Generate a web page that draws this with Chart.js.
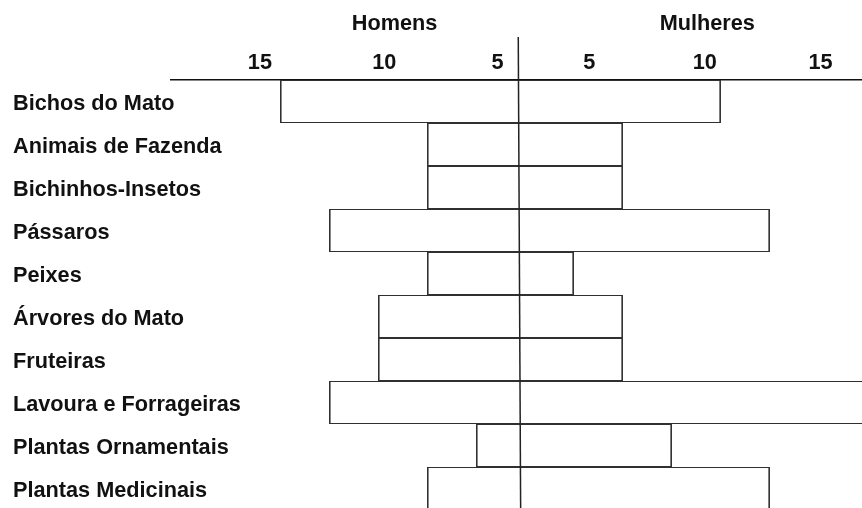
<!DOCTYPE html>
<html><head><meta charset="utf-8">
<script src="https://cdn.jsdelivr.net/npm/chart.js@4/dist/chart.umd.min.js"></script>
<style>html,body{margin:0;padding:0;background:#fff;overflow:hidden;}canvas{display:block;}</style>
</head><body>
<canvas id="c" width="862" height="512"></canvas>
<script>
const categories = ['Bichos do Mato','Animais de Fazenda','Bichinhos-Insetos','Pássaros','Peixes','Árvores do Mato','Fruteiras','Lavoura e Forrageiras','Plantas Ornamentais','Plantas Medicinais'];
const homens   = [5, 2, 2, 4, 2, 3, 3, 4, 1, 2];
const mulheres = [4, 2, 2, 5, 1, 2, 2, 7, 3, 5];
const tickLabels = ['15', '10', '5', '5', '10', '15'];
const tickValues = [-5.41, -2.87, -0.56, 1.31, 3.67, 6.03];
const groupLabels = ['Homens', 'Mulheres'];
const groupValues = [-2.66, 3.72];
const centerLine = [-0.137, -0.088];
const xMin = -7.224, xMax = 6.878;

const FONT = {family: "'Liberation Sans', Arial, sans-serif", size: 21.7, weight: 'bold'};
const Y_AXIS_WIDTH = 158;

const centerLinePlugin = {
  id: 'centerLine',
  afterDraw(chart) {
    const xs = chart.scales.x, ctx = chart.ctx;
    const top = chart.scales.x2.bottom - 10;
    ctx.save();
    ctx.strokeStyle = '#222';
    ctx.lineWidth = 1.5;
    ctx.beginPath();
    ctx.moveTo(xs.getPixelForValue(centerLine[0]), top);
    ctx.lineTo(xs.getPixelForValue(centerLine[1]), chart.height);
    ctx.stroke();
    ctx.restore();
  }
};

new Chart(document.getElementById('c'), {
  type: 'bar',
  data: {
    labels: categories,
    datasets: [{
      data: categories.map((c, i) => [-homens[i], mulheres[i]]),
      backgroundColor: 'rgba(0,0,0,0)',
      borderColor: '#303030',
      borderWidth: {top: 1.1, bottom: 1.1, left: 1.6, right: 1.6},
      borderSkipped: false,
      barPercentage: 1,
      categoryPercentage: 1,
      inflateAmount: 0
    }]
  },
  options: {
    indexAxis: 'y',
    responsive: false,
    animation: false,
    events: [],
    layout: {padding: {left: 13, right: 0, top: 0, bottom: 2}},
    plugins: {legend: {display: false}, tooltip: {enabled: false}},
    scales: {
      x: {
        type: 'linear', position: 'top', min: xMin, max: xMax, weight: 0,
        grid: {display: false, drawTicks: false},
        border: {display: true, color: '#111', width: 1.5},
        afterBuildTicks: s => { s.ticks = tickValues.map(v => ({value: v})); },
        afterFit: s => { s.height = 33; },
        ticks: {autoSkip: false, maxRotation: 0, minRotation: 0, padding: 3.5, color: '#111', font: FONT,
          callback: (v, i) => tickLabels[i]}
      },
      x2: {
        type: 'linear', position: 'top', min: xMin, max: xMax, weight: 1,
        grid: {display: false, drawTicks: false},
        border: {display: false},
        afterBuildTicks: s => { s.ticks = groupValues.map(v => ({value: v})); },
        afterFit: s => { s.height = 47; },
        ticks: {autoSkip: false, maxRotation: 0, minRotation: 0, padding: 10, color: '#111', font: FONT,
          callback: (v, i) => groupLabels[i]}
      },
      y: {
        type: 'category', position: 'left', offset: true,
        grid: {display: false, drawTicks: false},
        border: {display: false},
        afterFit: s => { s.width = Y_AXIS_WIDTH; },
        ticks: {mirror: true, crossAlign: 'near', padding: -Y_AXIS_WIDTH, labelOffset: 3, color: '#111', font: FONT, autoSkip: false}
      }
    }
  },
  plugins: [centerLinePlugin]
});
</script>
</body></html>
